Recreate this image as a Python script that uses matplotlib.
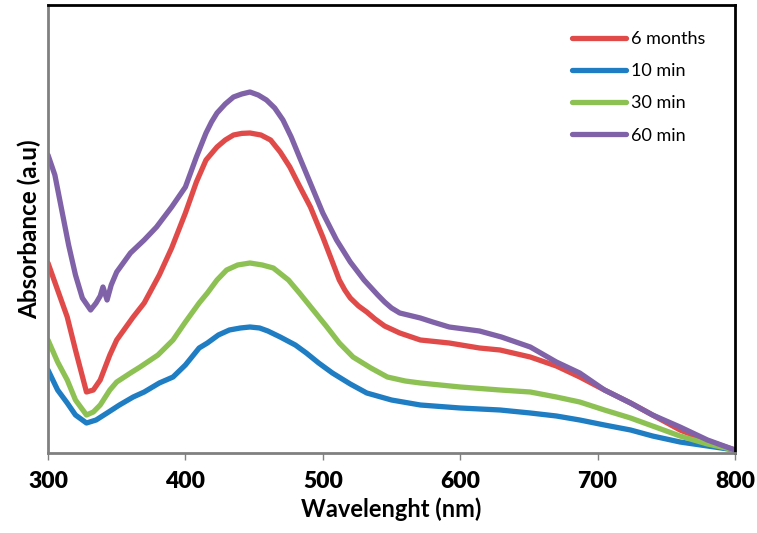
import matplotlib
matplotlib.use("Agg")
import matplotlib.pyplot as plt

# Wavelength (nm) and absorbance (a.u.)
wl_6months = [300, 307, 314, 320, 328, 333, 338, 345, 350, 362, 370, 381, 390, 400, 408, 415, 423, 429, 435,
              441, 447, 455, 462, 469, 476, 483, 491, 500, 507, 512, 516, 520, 526, 532, 538, 545, 556, 571,
              592, 614, 629, 651, 670, 687, 705, 724, 740, 760, 780, 800]
abs_6months = [0.950, 0.815, 0.680, 0.515, 0.305, 0.315, 0.365, 0.490, 0.565, 0.680, 0.750, 0.890, 1.025,
               1.200, 1.355, 1.465, 1.530, 1.565, 1.590, 1.598, 1.600, 1.590, 1.565, 1.505, 1.430, 1.335,
               1.230, 1.080, 0.955, 0.865, 0.815, 0.775, 0.735, 0.705, 0.670, 0.635, 0.600, 0.565, 0.550,
               0.525, 0.515, 0.480, 0.435, 0.380, 0.315, 0.250, 0.190, 0.115, 0.060, 0.015]

wl_10min = [300, 307, 314, 320, 328, 335, 343, 352, 362, 370, 381, 391, 400, 410, 416, 424, 432, 440, 447,
            454, 460, 469, 480, 488, 497, 507, 520, 532, 550, 571, 600, 629, 651, 670, 687, 705, 724, 740,
            760, 780, 800]
abs_10min = [0.415, 0.315, 0.250, 0.190, 0.150, 0.165, 0.200, 0.240, 0.280, 0.305, 0.350, 0.380, 0.440,
             0.525, 0.550, 0.590, 0.615, 0.625, 0.630, 0.625, 0.610, 0.580, 0.540, 0.500, 0.450, 0.400,
             0.345, 0.300, 0.265, 0.240, 0.225, 0.215, 0.200, 0.185, 0.165, 0.140, 0.115, 0.085, 0.055,
             0.035, 0.015]

wl_30min = [300, 307, 314, 320, 328, 333, 338, 345, 350, 360, 367, 380, 391, 400, 410, 416, 423, 430, 438,
            447, 456, 464, 475, 483, 493, 503, 512, 522, 535, 547, 560, 571, 600, 629, 651, 670, 687, 705,
            724, 740, 760, 780, 800]
abs_30min = [0.565, 0.455, 0.365, 0.265, 0.190, 0.205, 0.240, 0.315, 0.355, 0.400, 0.430, 0.490, 0.565,
             0.655, 0.750, 0.800, 0.865, 0.915, 0.940, 0.950, 0.940, 0.925, 0.865, 0.800, 0.715, 0.630,
             0.550, 0.480, 0.425, 0.380, 0.360, 0.350, 0.330, 0.315, 0.305, 0.280, 0.255, 0.215, 0.175,
             0.135, 0.085, 0.045, 0.015]

wl_60min = [300, 305, 310, 315, 320, 325, 331, 335, 338, 340, 343, 346, 350, 360, 370, 379, 390, 400, 408,
            415, 419, 423, 429, 435, 441, 447, 453, 459, 465, 471, 477, 483, 490, 500, 510, 520, 530, 540,
            545, 550, 556, 562, 571, 580, 592, 614, 630, 651, 670, 687, 705, 724, 740, 760, 780, 800]
abs_60min = [1.490, 1.390, 1.215, 1.040, 0.890, 0.775, 0.715, 0.750, 0.785, 0.830, 0.765, 0.840, 0.905,
             1.000, 1.065, 1.130, 1.230, 1.330, 1.480, 1.600, 1.655, 1.700, 1.745, 1.780, 1.795, 1.805,
             1.790, 1.765, 1.725, 1.665, 1.580, 1.480, 1.365, 1.200, 1.065, 0.955, 0.865, 0.790, 0.755,
             0.725, 0.700, 0.690, 0.675, 0.655, 0.630, 0.610, 0.580, 0.530, 0.455, 0.400, 0.315, 0.250,
             0.190, 0.130, 0.065, 0.015]

series = [
    ("6 months", wl_6months, abs_6months, "#E04B4A"),
    ("10 min", wl_10min, abs_10min, "#1F7DC4"),
    ("30 min", wl_30min, abs_30min, "#8DC153"),
    ("60 min", wl_60min, abs_60min, "#8062A8"),
]
x_ticks = [300, 400, 500, 600, 700, 800]

plt.rcParams['font.family'] = ['Lato', 'DejaVu Sans']

W, H = 757, 533
fig = plt.figure(figsize=(W / 100, H / 100), dpi=100)
ax = fig.add_axes([48 / W, (H - 453) / H, (735 - 48) / W, (453 - 5) / H])

for name, x, y, c in series:
    ax.plot(x, y, color=c, lw=3.8, label=name, solid_joinstyle='round', solid_capstyle='round')

ax.set_xlim(300, 800)
ax.set_ylim(0, 2.24)
ax.set_xticks(x_ticks)
ax.set_xticklabels([str(t) for t in x_ticks], fontsize=16.5, fontweight='heavy')
ax.set_yticks([])
ax.tick_params(axis='x', direction='out', length=5, width=1, color='#808080', pad=8)

for side in ['left', 'bottom']:
    ax.spines[side].set_color('#808080')
    ax.spines[side].set_linewidth(2)
for side in ['top', 'right']:
    ax.spines[side].set_color('black')
    ax.spines[side].set_linewidth(2)

ax.set_xlabel("Wavelenght (nm)", fontsize=17, fontweight='bold', labelpad=4)
ax.set_ylabel("Absorbance (a.u)", fontsize=17.5, fontweight='bold', labelpad=5)

leg = fig.legend(loc='upper left', bbox_to_anchor=(572 / W, 1 - 31 / H), frameon=False,
                 fontsize=13, handlelength=3.0, handletextpad=0.25, labelspacing=0.9,
                 borderpad=0, borderaxespad=0)

fig.savefig("out.png", dpi=100)
